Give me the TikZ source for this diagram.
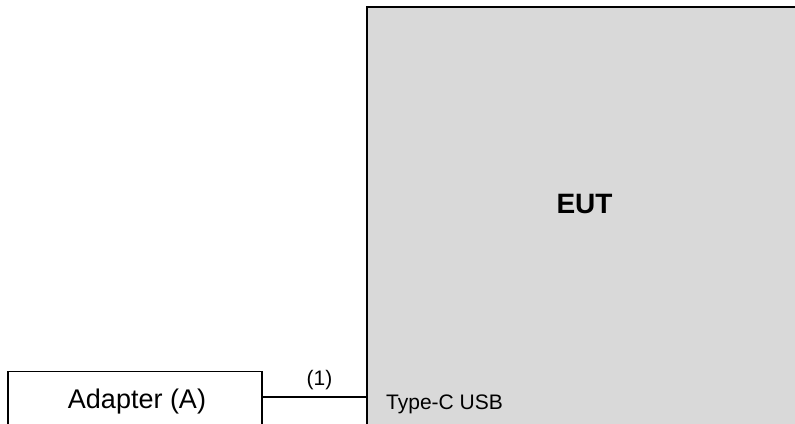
\documentclass[tikz,border=0pt]{standalone}
\usepackage{fontspec}
\setmainfont{Liberation Sans}
\begin{document}
\begin{tikzpicture}[x=1pt,y=-1pt,
  box/.style={draw=black,line width=1.2pt,inner sep=0pt,outer sep=0pt},
  lbl/.style={inner sep=0pt,font=\fontsize{21}{24}\selectfont}]
\useasboundingbox (0,0) rectangle (795,423);
\clip (0,0) rectangle (795,423);
\node[box,fill={rgb,255:red,217;green,217;blue,217},minimum width=433pt,minimum height=423pt] (eut) at (583.5,218.5) {};
\node[inner sep=0pt,font=\bfseries\fontsize{28}{32}\selectfont] (euttxt) at (584.5,204) {EUT};
\node[lbl,anchor=base west] (usb) at (386,409.3) {Type-C USB};
\node[box,fill=white,minimum width=254pt,minimum height=60pt,font=\fontsize{27}{30}\selectfont] (adapter) at (135,401.7) {};
\node[inner sep=0pt,font=\fontsize{27}{30}\selectfont,anchor=base] (adtxt) at (137,408.3) {Adapter (A)};
\draw[line width=1.2pt] ([yshift=4.7pt]adapter.east) -- ([yshift=4.7pt]adapter.east -| eut.west) node[midway,above=7pt,xshift=5pt,lbl] (l1) {(1)};
\end{tikzpicture}
\end{document}
